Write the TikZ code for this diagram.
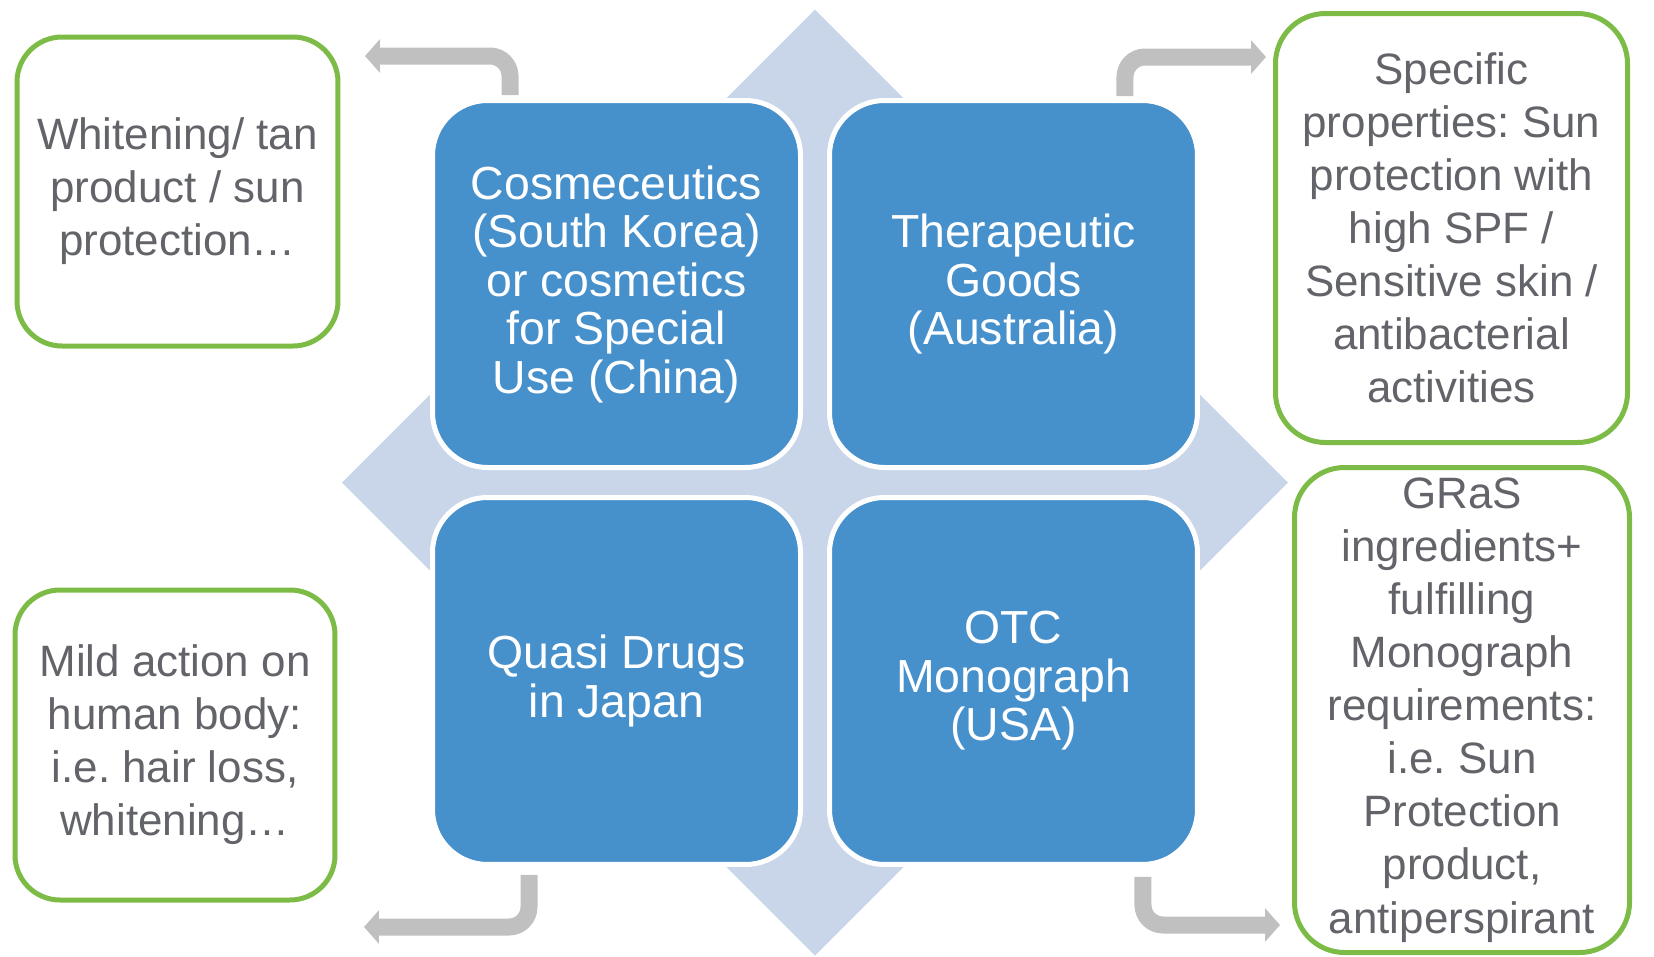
\documentclass[tikz,border=0pt]{standalone}
\usepackage{fontspec}
\setmainfont{Liberation Sans}
\frenchspacing
\usepackage{tikz}
\usetikzlibrary{arrows.meta, positioning, calc, backgrounds}
\definecolor{cBlue}{RGB}{70,144,204}
\definecolor{cPale}{RGB}{201,214,234}
\definecolor{cGreen}{RGB}{124,187,70}
\definecolor{cGrey}{RGB}{192,192,192}
\definecolor{cText}{RGB}{98,100,106}
\tikzset{
	regbox/.style   ={rectangle, rounded corners=5.5mm, minimum width=36.8mm, minimum height=36.7mm, inner sep=0pt, align=center, draw=white, line width=0.5mm, fill=cBlue, text=white, font=\fontsize{13.2}{13.8}\selectfont},
	notebox/.style  ={rectangle, rounded corners=4.5mm, inner sep=0pt, align=center, draw=cGreen, line width=0.5mm, fill=white, text=cText, font=\fontsize{12.5}{15.1}\selectfont},
	bendarrow/.style={-{Triangle[width=3.3mm, length=1.5mm]}, cGrey, line width=1.7mm, rounded corners=2mm},
}

\begin{document}
\begin{tikzpicture}[x=0.1mm, y=-0.1mm, node distance=2.4mm]
	\useasboundingbox (0,0) rectangle (1654,957);
	\node[regbox] (cosm) at (616.5,284) {Cosmeceutics\\(South Korea)\\or cosmetics\\for Special\\Use (China)};
	\node[regbox, right=of cosm] (tga) {Therapeutic\\Goods\\(Australia)};
	\node[regbox, below=2.5mm of cosm] (quasi) {Quasi Drugs\\in Japan};
	\node[regbox, below=2.5mm of tga] (otc) {OTC\\Monograph\\(USA)};
	\node[notebox, minimum width=32.1mm, minimum height=30.9mm] (whiten) at (177.5,191.5) {Whitening/ tan\\product / sun\\protection…};
	\node[notebox, minimum width=32mm, minimum height=31mm] (mild) at (175,745) {Mild action on\\human body:\\i.e. hair loss,\\whitening…};
	\node[notebox, minimum width=35.2mm, minimum height=42.9mm, rounded corners=5mm] (spec) at (1451.5,228) {Specific\\properties: Sun\\protection with\\high SPF /\\Sensitive skin /\\antibacterial\\activities};
	\node[notebox, minimum width=33.5mm, minimum height=48.5mm, rounded corners=5mm] (gras) at (1462,710) {GRaS\\ingredients+\\fulfilling\\Monograph\\requirements:\\i.e. Sun\\Protection\\product,\\antiperspirant};
	% diamond behind the four boxes
	\begin{scope}[on background layer]
		\coordinate (mid) at ($(cosm)!0.5!(otc)$);
		\fill[cPale] ($(mid)+(0,-473)$) -- ($(mid)+(473,0)$) -- ($(mid)+(0,473)$) -- ($(mid)+(-473,0)$) -- cycle;
	\end{scope}
	\draw[bendarrow] ([xshift=8mm, yshift=0.3mm]cosm.north west) |- ([xshift=2.45mm, yshift=-2.15mm]whiten.north east);
	\draw[bendarrow] ([xshift=-7.5mm, yshift=0.2mm]tga.north east) |- ([xshift=-0.7mm, yshift=-4.6mm]spec.north west);
	\draw[bendarrow] ([xshift=9.9mm, yshift=-0.8mm]quasi.south west) |- ([xshift=2.65mm, yshift=-2.45mm]mild.south east);
	\draw[bendarrow] ([xshift=-5.7mm, yshift=-1mm]otc.south east) |- ([xshift=-1.2mm, yshift=3mm]gras.south west);
\end{tikzpicture}
\end{document}
